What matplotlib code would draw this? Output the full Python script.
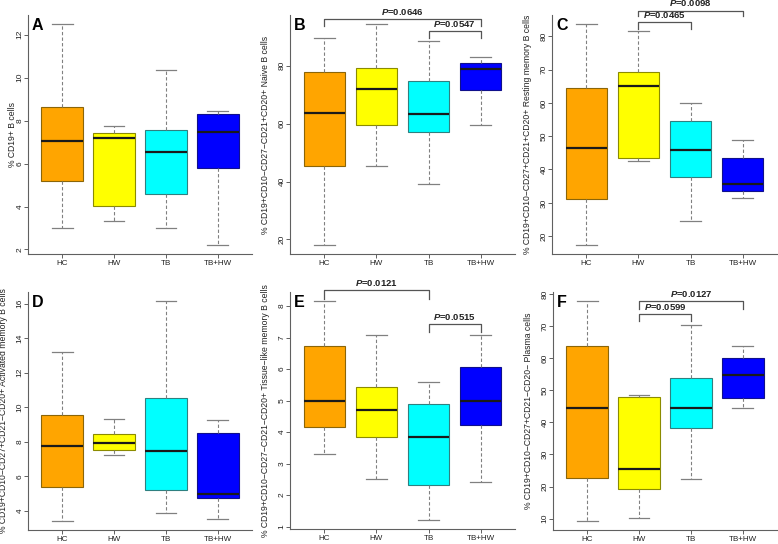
import matplotlib
matplotlib.use("Agg")
import matplotlib.pyplot as plt

plt.rcParams["font.family"] = ["Liberation Sans", "DejaVu Sans"]
plt.rcParams["mathtext.fontset"] = "custom"
plt.rcParams["mathtext.it"] = "Liberation Sans:italic:bold"
plt.rcParams["mathtext.rm"] = "Liberation Sans:bold"

W, H = 778, 544

groups = ["HC", "HW", "TB", "TB+HW"]
fills = ["#FFA500", "#FFFF00", "#00FFFF", "#0000FF"]
edges = ["#8B6508", "#8B8B00", "#2F8080", "#10108B"]

# five-number summaries per group: whisker low, Q1, median, Q3, whisker high
a_stats = [
    [3.0, 5.19, 7.07, 8.64, 12.51],
    [3.31, 4.04, 7.18, 7.41, 7.75],
    [3.0, 4.60, 6.53, 7.55, 10.34],
    [2.20, 5.78, 7.46, 8.30, 8.45],
]
b_stats = [
    [18.0, 45.2, 63.7, 77.7, 89.5],
    [45.5, 59.7, 71.9, 79.1, 94.5],
    [39.0, 57.0, 63.4, 74.8, 88.7],
    [59.7, 71.5, 78.8, 81.0, 83.1],
]
c_stats = [
    [17.3, 31.0, 46.5, 64.6, 83.7],
    [42.6, 43.3, 65.2, 69.2, 81.5],
    [24.6, 37.7, 45.9, 54.7, 59.9],
    [31.3, 33.6, 35.7, 43.3, 48.9],
]
d_stats = [
    [3.40, 5.37, 7.76, 9.54, 13.2],
    [7.26, 7.55, 7.95, 8.44, 9.34],
    [3.90, 5.18, 7.45, 10.52, 16.17],
    [3.50, 4.73, 4.98, 8.53, 9.25],
]
e_stats = [
    [3.30, 4.16, 5.0, 6.72, 8.17],
    [2.50, 3.85, 4.69, 5.43, 7.09],
    [1.20, 2.31, 3.84, 4.90, 5.60],
    [2.40, 4.24, 5.0, 6.07, 7.09],
]
f_stats = [
    [9.2, 22.8, 44.6, 63.75, 77.9],
    [10.3, 19.2, 25.6, 47.9, 48.5],
    [22.3, 38.2, 44.4, 53.9, 70.4],
    [44.6, 47.7, 54.7, 60.2, 63.9],
]

a_ticks = [2, 4, 6, 8, 10, 12]
b_ticks = [20, 40, 60, 80]
c_ticks = [20, 30, 40, 50, 60, 70, 80]
d_ticks = [4, 6, 8, 10, 12, 14, 16]
e_ticks = [1, 2, 3, 4, 5, 6, 7, 8]
f_ticks = [10, 20, 30, 40, 50, 60, 70, 80]

# brackets: group from, group to, line level, end of the drops, p value
b_brackets = [(1, 4, 96.3, 93.8, "0.0646"), (3, 4, 92.1, 89.6, "0.0547")]
c_brackets = [(2, 4, 87.7, 86.0, "0.0098"), (2, 3, 84.2, 82.2, "0.0465")]
e_brackets = [(1, 3, 8.51, 8.24, "0.0121"), (3, 4, 7.42, 7.19, "0.0515")]
f_brackets = [(2, 4, 77.9, 75.4, "0.0127"), (2, 3, 73.9, 71.5, "0.0599")]

a_label = "% CD19+ B cells"
b_label = "% CD19+CD10\u2212CD27\u2212CD21+CD20+ Naive B cells"
c_label = "% CD19+CD10\u2212CD27+CD21+CD20+ Resting memory B cells"
d_label = "% CD19+CD10\u2212CD27+CD21\u2212CD20+ Activated memory B cells"
e_label = "% CD19+CD10\u2212CD27\u2212CD21\u2212CD20+ Tissue\u2212like memory B cells"
f_label = "% CD19+CD10\u2212CD27+CD21\u2212CD20\u2212 Plasma cells"


def draw_panel(fig, rect, letter, stats, ylabel, yticks, brackets, label_pad):
    left, top, right, bottom = rect
    ax = fig.add_axes([left / W, 1 - bottom / H, (right - left) / W, (bottom - top) / H])

    boxes = [dict(whislo=s[0], q1=s[1], med=s[2], q3=s[3], whishi=s[4], label=g)
             for s, g in zip(stats, groups)]
    bp = ax.bxp(boxes, positions=[1, 2, 3, 4], widths=0.8, patch_artist=True,
                showfliers=False,
                boxprops=dict(linewidth=0.8),
                whiskerprops=dict(color="#808080", linewidth=0.8, linestyle=(0, (3, 2))),
                capprops=dict(color="#808080", linewidth=0.9),
                medianprops=dict(color="#1a1a1a", linewidth=1.6))
    for patch, fc, ec in zip(bp["boxes"], fills, edges):
        patch.set_facecolor(fc)
        patch.set_edgecolor(ec)

    lo = min(s[0] for s in stats)
    hi = max(s[4] for s in stats)
    pad = 0.04 * (hi - lo)
    ax.set_ylim(lo - pad, hi + pad)
    ax.set_xlim(0.34, 4.66)

    for side in ["top", "right"]:
        ax.spines[side].set_visible(False)
    for side in ["left", "bottom"]:
        ax.spines[side].set_color("#606060")
        ax.spines[side].set_linewidth(0.8)

    ax.set_yticks(yticks)
    ax.tick_params(axis="both", length=3, width=0.7, color="#606060",
                   labelcolor="#222222")
    ax.tick_params(axis="y", labelsize=6, labelrotation=90, pad=0.3)
    ax.tick_params(axis="x", labelsize=5.8, pad=1.5)
    for lab in ax.get_yticklabels():
        lab.set_va("center")

    ax.set_ylabel(ylabel, fontsize=6.2, color="#222222")
    ax.yaxis.set_label_coords(-label_pad / (right - left), 0.5)

    ax.annotate(letter, xy=(0, 1), xycoords="axes fraction", xytext=(4, -3),
                textcoords="offset pixels", ha="left", va="top",
                fontsize=11.5, fontweight="bold")

    for x1, x2, yline, ydrop, p in brackets:
        ax.plot([x1, x1, x2, x2], [ydrop, yline, yline, ydrop], color="#555555",
                linewidth=0.9, clip_on=False)
        ax.annotate("$P$=" + p, xy=((x1 + x2) / 2, yline), xytext=(0, 1.5),
                    textcoords="offset points", ha="center", va="bottom",
                    fontsize=6.8, fontweight="bold", color="#222222",
                    annotation_clip=False)
    return ax


def main():
    fig = plt.figure(figsize=(W / 100, H / 100), dpi=100)

    draw_panel(fig, (28, 15, 252, 254), "A", a_stats, a_label, a_ticks, [], 11)
    draw_panel(fig, (290, 15, 515, 254), "B", b_stats, b_label, b_ticks, b_brackets, 20)
    draw_panel(fig, (552, 15, 777, 254), "C", c_stats, c_label, c_ticks, c_brackets, 20)
    draw_panel(fig, (28, 292, 252, 530), "D", d_stats, d_label, d_ticks, [], 20)
    draw_panel(fig, (290, 292, 515, 529), "E", e_stats, e_label, e_ticks, e_brackets, 20)
    draw_panel(fig, (553, 292, 777, 530), "F", f_stats, f_label, f_ticks, f_brackets, 20)

    fig.savefig("out.png", dpi=100)
    plt.close(fig)


if __name__ == "__main__":
    main()
